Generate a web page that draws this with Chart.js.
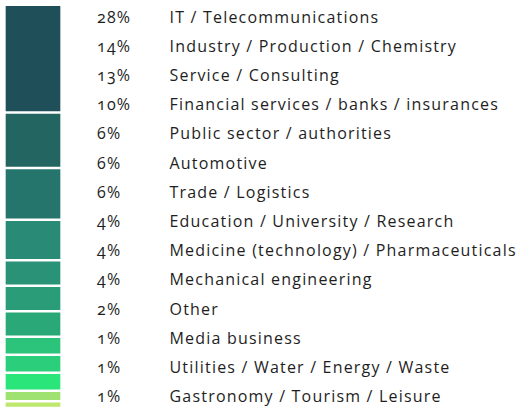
<!DOCTYPE html>
<html>
<head>
<meta charset="utf-8">
<script src="https://cdn.jsdelivr.net/npm/chart.js@4/dist/chart.umd.min.js"></script>
<style>
  html, body { margin: 0; padding: 0; background: #fff; }
  #wrap { position: relative; width: 521px; height: 410px; overflow: hidden; }
  #barBox { position: absolute; left: 0; top: 0; width: 66px; height: 410px; }
  #rows { position: absolute; left: 97px; top: 2.5px; margin: 0; padding: 0; list-style: none;
          font-family: "Open Sans", sans-serif; font-size: 16px; letter-spacing: 1.2px;
          line-height: 29.2px; color: #1e1e1e;
          font-variant-numeric: oldstyle-nums; white-space: nowrap; }
  #rows li span.pct { display: inline-block; width: 72.5px; }
</style>
</head>
<body>
<div id="wrap">
  <div id="barBox"><canvas id="chartBranchen"></canvas></div>
  <ul id="rows"></ul>
</div>
<script>
// Branchen und Anteile (in %)
const categories = [
  "IT / Telecommunications",
  "Industry / Production / Chemistry",
  "Service / Consulting",
  "Financial services / banks / insurances",
  "Public sector / authorities",
  "Automotive",
  "Trade / Logistics",
  "Education / University / Research",
  "Medicine (technology) / Pharmaceuticals",
  "Mechanical engineering",
  "Other",
  "Media business",
  "Utilities / Water / Energy / Waste",
  "Gastronomy / Tourism / Leisure"
];
const shares = [28, 14, 13, 10, 6, 6, 6, 4, 4, 4, 2, 1, 1, 1];
const colors = [
  "#1f4f58", "#236661", "#26756d", "#298a75", "#2a9276", "#2a9c77", "#2aa878",
  "#2bc47a", "#2bcf7b", "#2ae57a", "#a0e272", "#bde86d", "#cbe96b", "#d8ea69"
];

// white gap between segments (in % units)
const GAP = 0.8;

// Liste rechts
const rows = document.getElementById("rows");
categories.forEach((name, i) => {
  const li = document.createElement("li");
  li.innerHTML = `<span class="pct">${shares[i]}%</span>${name}`;
  rows.appendChild(li);
});

// Segmente als schwebende Balken übereinander
let start = 0;
const datasets = shares.map((v, i) => {
  const ds = {
    label: categories[i],
    data: [[start, start + v]],
    backgroundColor: colors[i],
    borderWidth: 0,
    grouped: false,
    barThickness: 54,
    clip: 0
  };
  start += v + GAP;
  return ds;
});

new Chart(document.getElementById("chartBranchen"), {
  type: "bar",
  data: { labels: ["Branchen"], datasets },
  options: {
    responsive: true,
    maintainAspectRatio: false,
    animation: false,
    layout: { padding: { top: 6, left: 0, right: 0, bottom: 1 } },
    plugins: { legend: { display: false }, tooltip: { enabled: false } },
    scales: {
      x: { display: false },
      y: { display: false, reverse: true, min: 0, max: 107.47 }
    }
  }
});
</script>
</body>
</html>
